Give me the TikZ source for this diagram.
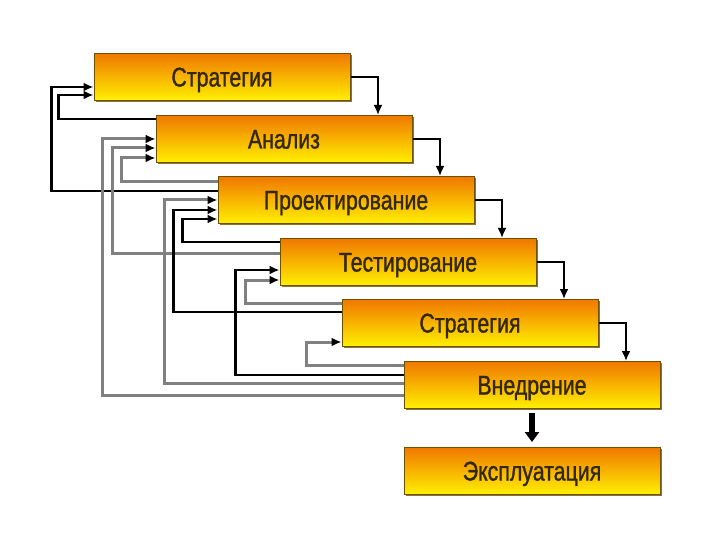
\documentclass[tikz,border=0pt]{standalone}
\usepackage{fontspec}
\newfontfamily\stagefont{Liberation Sans}[FakeStretch=0.79,FakeBold=1.2]
\usepackage{tikz}
\usetikzlibrary{arrows.meta,calc,shadows}
\definecolor{stagetop}{HTML}{F07800}
\definecolor{stagebottom}{HTML}{FFF000}
\definecolor{stageedge}{HTML}{6E5200}
\definecolor{stagetext}{HTML}{342800}
\definecolor{loopgray}{HTML}{808080}
\tikzset{
  stage/.style={draw=stageedge,line width=1pt,top color=stagetop,bottom color=stagebottom,
    minimum width=256pt,minimum height=47pt,inner sep=0pt,text height=19pt,text depth=0pt,
    font=\stagefont\fontsize{27}{27}\selectfont,text=stagetext,
    drop shadow={shadow xshift=1.5pt,shadow yshift=-1.5pt,fill=stageedge,opacity=.8}},
  forward/.style={black,line width=2.8pt,-{Latex[length=10pt,width=9pt]}},
  feedback/.style={black,line width=2.6pt,-{Latex[length=10pt,width=9pt]}},
  feedbackgray/.style={loopgray,line width=3pt,-{Latex[length=10pt,width=9pt,color=black]}},
  handover/.style={black,line width=6pt,-{Triangle[length=10pt,width=14pt]},shorten <=4pt,shorten >=5pt}
}

\begin{document}
\begin{tikzpicture}[x=1pt,y=-1pt]
\useasboundingbox[fill=white] (0,0) rectangle (720,540);
\node[stage] (strat) at (222,77) {Стратегия};
\node[stage] (anal) at (284,139) {Анализ};
\node[stage] (proj) at (346,200) {Проектирование};
\node[stage] (test) at (408,262) {Тестирование};
\node[stage] (strat2) at (470,323) {Стратегия};
\node[stage] (vned) at (532,385) {Внедрение};
\node[stage] (expl) at (532,471) {Эксплуатация};
% forward steps
\draw[forward] (strat.east) -| ([xshift=94pt]anal.north);
\draw[forward] (anal.east) -| ([xshift=94pt]proj.north);
\draw[forward] (proj.east) -| ([xshift=94pt]test.north);
\draw[forward] (test.east) -| ([xshift=94pt]strat2.north);
\draw[forward] (strat2.east) -| ([xshift=94pt]vned.north);
\draw[handover] (vned) -- (expl);
% returns to the first strategy
\draw[feedback] ([yshift=-4pt]anal.north west) -| ([xshift=-35pt,yshift=-18pt]strat.west) -- ([yshift=-18pt]strat.west);
\draw[feedback] ([yshift=-15pt]proj.north west) -| ([xshift=-42pt,yshift=-10pt]strat.west) -- ([yshift=-10pt]strat.west);
% returns to analysis
\draw[feedbackgray] ([yshift=-6pt]proj.north west) -| ([xshift=-34pt,yshift=-19pt]anal.west) -- ([yshift=-19pt]anal.west);
\draw[feedbackgray] ([yshift=-15pt]test.north west) -| ([xshift=-43pt,yshift=-9pt]anal.west) -- ([yshift=-9pt]anal.west);
\draw[feedbackgray] ([yshift=-34pt]vned.north west) -| ([xshift=-53pt]anal.west) -- (anal.west);
% returns to design
\draw[feedback] ([yshift=-4pt]test.north west) -| ([xshift=-35pt,yshift=-19pt]proj.west) -- ([yshift=-19pt]proj.west);
\draw[feedback] ([yshift=-13pt]strat2.north west) -| ([xshift=-44pt,yshift=-10pt]proj.west) -- ([yshift=-10pt]proj.west);
\draw[feedbackgray] ([yshift=-22pt]vned.north west) -| ([xshift=-53pt]proj.west) -- (proj.west);
% returns to testing
\draw[feedbackgray] ([yshift=-4pt]strat2.north west) -| ([xshift=-34pt,yshift=-18pt]test.west) -- ([yshift=-18pt]test.west);
\draw[feedback] ([yshift=-14pt]vned.north west) -| ([xshift=-44pt,yshift=-8pt]test.west) -- ([yshift=-8pt]test.west);
% return to the second strategy
\draw[feedbackgray] ([yshift=-4pt]vned.north west) -| ([xshift=-35pt,yshift=-19pt]strat2.west) -- ([yshift=-19pt]strat2.west);
\end{tikzpicture}
\end{document}
